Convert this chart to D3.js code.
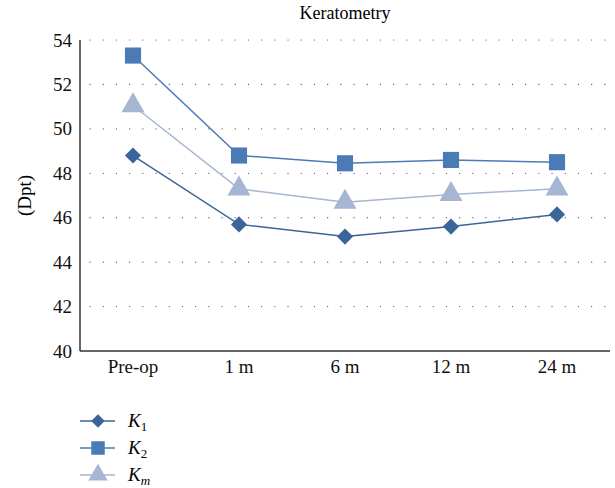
<!DOCTYPE html>
<html>
<head>
<meta charset="utf-8">
<script src="https://cdn.jsdelivr.net/npm/d3@7"></script>
<style>
  body { margin: 0; background: white; }
  text { font-family: "Liberation Serif", "DejaVu Serif", serif; }
</style>
</head>
<body>
<script>
// data
var periods = ["Pre-op", "1 m", "6 m", "12 m", "24 m"];
var k1 = [48.8, 45.7, 45.15, 45.6, 46.15];
var k2 = [53.3, 48.8, 48.45, 48.6, 48.5];
var km = [51.05, 47.3, 46.7, 47.05, 47.3];
var yTicks = [40, 42, 44, 46, 48, 50, 52, 54];

var width = 615, height = 488;
var plotLeft = 80, plotRight = 610, plotTop = 40, plotBottom = 351;

var svg = d3.select("body").append("svg")
  .attr("width", width)
  .attr("height", height);

var x = d3.scaleBand().domain(periods).range([plotLeft, plotRight]);
var y = d3.scaleLinear().domain([40, 54]).range([plotBottom, plotTop]);

// dotted grid
svg.append("g").selectAll("line")
  .data(yTicks.slice(1))
  .enter().append("line")
  .attr("x1", plotLeft + 10).attr("x2", plotRight)
  .attr("y1", function(d) { return y(d); })
  .attr("y2", function(d) { return y(d); })
  .style("stroke", "#555")
  .style("stroke-width", 1.2)
  .style("stroke-linecap", "round")
  .style("stroke-dasharray", "0.1,13.1");

// axes
var yAxis = svg.append("g")
  .attr("transform", "translate(" + plotLeft + ",0)")
  .call(d3.axisLeft(y).tickValues(yTicks).tickSize(0).tickPadding(8));
var xAxis = svg.append("g")
  .attr("transform", "translate(0," + plotBottom + ")")
  .call(d3.axisBottom(x).tickSize(0).tickPadding(9));

[yAxis, xAxis].forEach(function(a) {
  a.attr("font-family", null);
  a.select(".domain").style("stroke", "#333").style("stroke-width", 1.5);
  a.selectAll("text")
    .style("font-family", "'Liberation Serif', serif")
    .style("font-size", "19px")
    .style("fill", "#111");
});
yAxis.select(".domain").attr("d", "M0," + plotTop + "V" + plotBottom);
xAxis.select(".domain").attr("d", "M" + plotLeft + ",0H" + plotRight);

// title and y label
svg.append("text")
  .attr("x", 345).attr("y", 19)
  .attr("text-anchor", "middle")
  .style("font-size", "18px")
  .text("Keratometry");

svg.append("text")
  .attr("transform", "translate(31," + ((plotTop + plotBottom) / 2) + ") rotate(-90)")
  .attr("text-anchor", "middle")
  .style("font-size", "19px")
  .text("(Dpt)");

var series = [
  { name: "K", sub: "1", values: k1, color: "#3b6598", symbol: d3.symbolSquare, size: 130, rot: 45 },
  { name: "K", sub: "2", values: k2, color: "#4a7bb7", symbol: d3.symbolSquare, size: 260, rot: 0 },
  { name: "K", sub: "m", values: km, color: "#a5b5d2", symbol: d3.symbolTriangle, size: 230, rot: 0 }
];

var line = d3.line()
  .x(function(d, i) { return x(periods[i]) + x.bandwidth() / 2; })
  .y(function(d) { return y(d); });

series.forEach(function(s) {
  svg.append("path")
    .datum(s.values)
    .attr("d", line)
    .style("fill", "none")
    .style("stroke", s.color)
    .style("stroke-width", 1.5);

  svg.append("g").selectAll("path")
    .data(s.values)
    .enter().append("path")
    .attr("transform", function(d, i) {
      return "translate(" + (x(periods[i]) + x.bandwidth() / 2) + "," + y(d) + ") rotate(" + s.rot + ")";
    })
    .attr("d", d3.symbol().type(s.symbol).size(s.size))
    .style("fill", s.color);
});

// legend
var legend = svg.append("g").selectAll("g")
  .data(series)
  .enter().append("g")
  .attr("transform", function(d, i) { return "translate(80," + (421 + i * 27) + ")"; });

legend.append("line")
  .attr("x1", 0).attr("x2", 35)
  .style("stroke", function(d) { return d.color; })
  .style("stroke-width", 1.5);

legend.append("path")
  .attr("transform", function(d) { return "translate(18,0) rotate(" + d.rot + ")"; })
  .attr("d", function(d) { return d3.symbol().type(d.symbol).size(d.size * 0.7)(); })
  .style("fill", function(d) { return d.color; });

var lt = legend.append("text")
  .attr("x", 48).attr("y", 6)
  .style("font-size", "19px")
  .style("font-style", "italic");
lt.append("tspan").text(function(d) { return d.name; });
lt.append("tspan")
  .attr("dy", 4)
  .style("font-size", "13px")
  .style("font-style", function(d) { return d.sub === "m" ? "italic" : "normal"; })
  .text(function(d) { return d.sub; });
</script>
</body>
</html>
